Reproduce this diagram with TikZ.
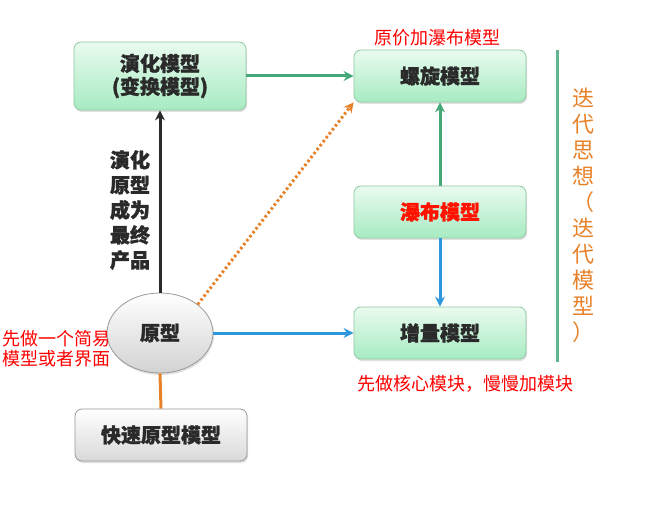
\documentclass[tikz,border=0pt]{standalone}
\usepackage{fontspec}
\setmainfont{Noto Sans CJK SC}[BoldFeatures={FakeBold=1.5}]
\usetikzlibrary{shapes.geometric, arrows.meta, positioning, shadows}

\definecolor{boxtop}{HTML}{EAFBEF}
\definecolor{boxbot}{HTML}{A6EBC2}
\definecolor{boxline}{HTML}{8FC9A3}
\definecolor{arrgreen}{HTML}{45A879}
\definecolor{arrblue}{HTML}{2E97DD}
\definecolor{arrorange}{HTML}{E8822A}
\definecolor{txtdark}{HTML}{2A2A2A}

\begin{document}
\begin{tikzpicture}[
        x=1pt, y=-1pt,
        model/.style={rectangle, draw=boxline, thick, top color=boxtop, bottom color=boxbot, minimum width=172pt, minimum height=52pt, align=center, font=\fontsize{20}{23}\selectfont\bfseries, text=txtdark, rounded corners=7pt, drop shadow={opacity=0.25, shadow xshift=1pt, shadow yshift=-2pt}},
        graymodel/.style={model, draw=gray!80, top color=white, bottom color=gray!30},
        proto/.style={ellipse, draw=gray!80, thick, top color=white, bottom color=gray!35, minimum width=106pt, minimum height=80pt, font=\fontsize{20}{23}\selectfont\bfseries, text=txtdark, drop shadow={opacity=0.25, shadow xshift=1pt, shadow yshift=-2pt}},
        note/.style={text=red, font=\fontsize{18}{20}\selectfont, align=left, inner sep=0pt},
        link/.style={line width=3pt, -{Stealth[length=10pt, width=10pt]}}
    ]
        \useasboundingbox (0,0) rectangle (664,505);

        % ----------------------------------------------------
        % MODELS
        % ----------------------------------------------------
        \node[model, minimum height=68pt] (evo) at (160, 76) {演化模型\\(变换模型)};
        \node[model] (spiral) at (440, 76) {螺旋模型};
        \node[model, text=red!85!orange] (waterfall) at (440, 212) {瀑布模型};
        \node[model] (incr) at (440, 333) {增量模型};
        \node[proto] (proto) at (160, 333) {原型};
        \node[graymodel] (rapid) at (161, 435) {快速原型模型};

        % ----------------------------------------------------
        % NOTES
        % ----------------------------------------------------
        \node[note] (spiralnote) at (437, 38) {原价加瀑布模型};
        \node[note] (incrnote) at (465, 384) {先做核心模块，慢慢加模块};
        \node[note, anchor=west] (protonote) at (2, 349) {先做一个简易\\模型或者界面};
        \node[font=\fontsize{20}{25}\selectfont\bfseries, text=txtdark, align=center, inner sep=0pt] (evonote) at (130, 210) {演化\\原型\\成为\\最终\\产品};

        % Iteration (right side)
        \coordinate (septop) at (557, 50);
        \coordinate (sepbot) at (557, 362);
        \draw[line width=3pt, draw=arrgreen!85] (septop) -- (sepbot);
        \node[text=arrorange, font=\fontsize{22}{26}\selectfont, align=center, inner sep=0pt] (iter) at (583, 215) {迭\\代\\思\\想\\（\\迭\\代\\模\\型\\）};

        % ----------------------------------------------------
        % CONNECTIONS
        % ----------------------------------------------------
        \draw[link, draw=txtdark] (proto.north) -- (evo.south);
        \draw[link, draw=arrgreen] (evo.east) -- (spiral.west);
        \draw[link, draw=arrorange, dash pattern=on 2.5pt off 2.5pt] (proto.north east) -- (spiral.south west);
        \draw[link, draw=arrgreen] (waterfall.north) -- (spiral.south);
        \draw[link, draw=arrblue] (waterfall.south) -- (incr.north);
        \draw[link, draw=arrblue] (proto.east) -- (incr.west);
        \draw[line width=3pt, draw=arrorange] (rapid.north) -- (proto.south);

    \end{tikzpicture}
\end{document}
